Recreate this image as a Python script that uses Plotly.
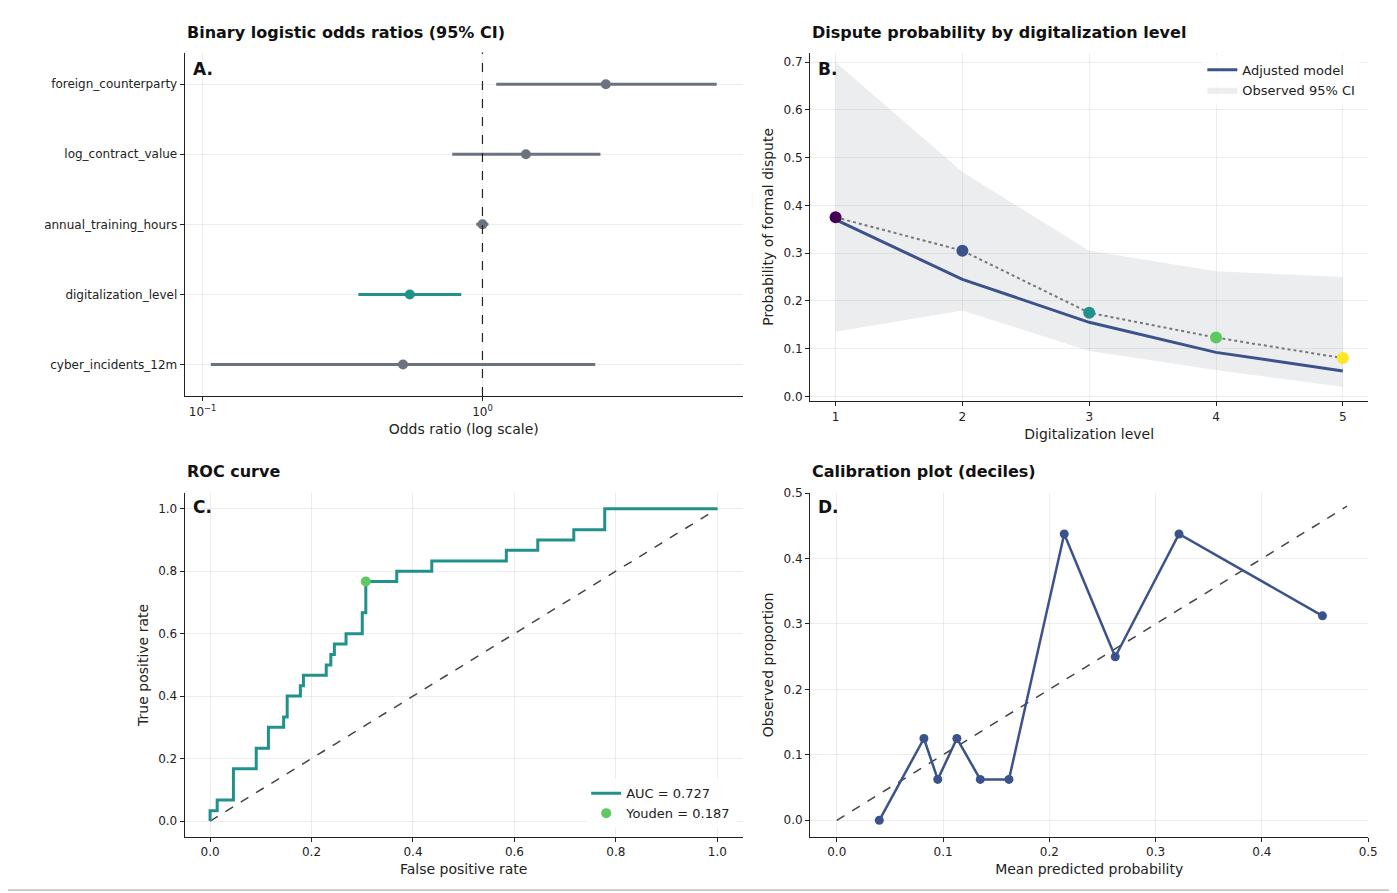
import plotly.graph_objects as go
import numpy as np

# Panel A
predictors = ["foreign_counterparty", "log_contract_value", "annual_training_hours", "digitalization_level", "cyber_incidents_12m"]
odds = [2.76, 1.43, 1.0, 0.55, 0.52]
ci_lo = [1.12, 0.78, 0.95, 0.36, 0.107]
ci_hi = [6.87, 2.64, 1.05, 0.84, 2.53]
sig = [False, False, False, True, False]

# Panel B
levels = [1, 2, 3, 4, 5]
adjusted = [0.37, 0.245, 0.155, 0.092, 0.053]
observed = [0.375, 0.305, 0.175, 0.123, 0.08]
obs_lo = [0.135, 0.18, 0.095, 0.055, 0.02]
obs_hi = [0.70, 0.47, 0.305, 0.262, 0.25]
level_colors = ["#440154", "#3b528b", "#21918c", "#5ec962", "#fde725"]

# Panel C
fpr = [0, 0, 0.014, 0.014, 0.046, 0.046, 0.091, 0.091, 0.115, 0.115, 0.145, 0.145, 0.152, 0.152,
       0.178, 0.178, 0.184, 0.184, 0.229, 0.229, 0.238, 0.238, 0.245, 0.245, 0.268, 0.268, 0.30, 0.30,
       0.307, 0.307, 0.368, 0.368, 0.437, 0.437, 0.584, 0.584, 0.646, 0.646, 0.717, 0.717, 0.778, 0.778, 1.0]
tpr = [0, 0.033, 0.033, 0.067, 0.067, 0.167, 0.167, 0.233, 0.233, 0.3, 0.3, 0.333, 0.333, 0.4,
       0.4, 0.433, 0.433, 0.467, 0.467, 0.5, 0.5, 0.533, 0.533, 0.567, 0.567, 0.6, 0.6, 0.667,
       0.667, 0.767, 0.767, 0.8, 0.8, 0.833, 0.833, 0.867, 0.867, 0.9, 0.9, 0.933, 0.933, 1.0, 1.0]
youden_pt = [0.307, 0.767]

# Panel D
mean_pred = [0.04, 0.082, 0.095, 0.113, 0.135, 0.162, 0.214, 0.262, 0.322, 0.457]
obs_prop = [0.0, 0.125, 0.0625, 0.125, 0.0625, 0.0625, 0.4375, 0.25, 0.4375, 0.3125]

GRAY = "#6b7280"; TEAL = "#21918c"; BLUE = "#3b528b"
W, H = 1397, 893
def dx(a, b): return [a / W, b / W]
def dy(top, bot): return [1 - bot / H, 1 - top / H]

fig = go.Figure()
nA = len(predictors)
ypos = list(range(nA))[::-1]
for i in range(nA):
    c = TEAL if sig[i] else GRAY
    fig.add_trace(go.Scatter(x=[ci_lo[i], ci_hi[i]], y=[ypos[i]] * 2, mode="lines",
                             line=dict(color=c, width=3), showlegend=False, xaxis="x", yaxis="y"))
    fig.add_trace(go.Scatter(x=[odds[i]], y=[ypos[i]], mode="markers",
                             marker=dict(color=c, size=10), showlegend=False, xaxis="x", yaxis="y"))

# B
fig.add_trace(go.Scatter(x=levels, y=obs_hi, mode="lines", line=dict(width=0), showlegend=False,
                         hoverinfo="skip", xaxis="x2", yaxis="y2"))
fig.add_trace(go.Scatter(x=levels, y=obs_lo, mode="lines", line=dict(width=0), fill="tonexty",
                         fillcolor="rgba(160,165,175,0.2)", name="Observed 95% CI", legend="legend",
                         legendrank=2, xaxis="x2", yaxis="y2"))
fig.add_trace(go.Scatter(x=levels, y=adjusted, mode="lines", line=dict(color=BLUE, width=3),
                         name="Adjusted model", legend="legend", legendrank=1, xaxis="x2", yaxis="y2"))
fig.add_trace(go.Scatter(x=levels, y=observed, mode="lines+markers", line=dict(color="#777", width=2, dash="dot"),
                         marker=dict(color=level_colors, size=12), showlegend=False, xaxis="x2", yaxis="y2"))

# C
fig.add_trace(go.Scatter(x=[0, 1], y=[0, 1], mode="lines", line=dict(color="#444", width=1.5, dash="dash"),
                         showlegend=False, xaxis="x3", yaxis="y3"))
fig.add_trace(go.Scatter(x=fpr, y=tpr, mode="lines", line=dict(color=TEAL, width=3),
                         name="AUC = 0.727", legend="legend2", xaxis="x3", yaxis="y3"))
fig.add_trace(go.Scatter(x=[youden_pt[0]], y=[youden_pt[1]], mode="markers", marker=dict(color="#5ec962", size=10),
                         name="Youden = 0.187", legend="legend2", xaxis="x3", yaxis="y3"))

# D
fig.add_trace(go.Scatter(x=[0, 0.48], y=[0, 0.48], mode="lines", line=dict(color="#444", width=1.5, dash="dash"),
                         showlegend=False, xaxis="x4", yaxis="y4"))
fig.add_trace(go.Scatter(x=mean_pred, y=obs_prop, mode="lines+markers", line=dict(color=BLUE, width=2.5),
                         marker=dict(color=BLUE, size=9), showlegend=False, xaxis="x4", yaxis="y4"))

ax = dict(showline=True, linecolor="#222", linewidth=1.2, ticks="outside", ticklen=4, tickcolor="#222",
          showgrid=True, gridcolor="rgba(0,0,0,0.07)", zeroline=False, mirror=False,
          tickfont=dict(size=12, color="#222"), title_font=dict(size=14, color="#222"))

fig.update_layout(
    width=W, height=H, margin=dict(l=0, r=0, t=0, b=0), plot_bgcolor="white", paper_bgcolor="white",
    font=dict(family="DejaVu Sans", color="#222"),
    xaxis=dict(**ax, type="log", range=[-1.064, 0.93], domain=dx(178, 740), anchor="y",
               tickvals=[0.1, 1], ticktext=["10<sup>−1</sup>", "10<sup>0</sup>"],
               title=dict(text="Odds ratio (log scale)", standoff=6)),
    yaxis=dict(**ax, range=[-0.45, nA - 0.55], domain=dy(38, 385), anchor="x",
               tickvals=ypos, ticktext=predictors),
    xaxis2=dict(**ax, range=[0.8, 5.2], domain=dx(808, 1370), anchor="y2", tickvals=levels,
                title=dict(text="Digitalization level", standoff=6)),
    yaxis2=dict(**ax, range=[-0.01, 0.72], domain=dy(38, 390), anchor="x2", dtick=0.1, tickformat=".1f",
                title=dict(text="Probability of formal dispute", standoff=6)),
    xaxis3=dict(**ax, range=[-0.05, 1.05], domain=dx(178, 740), anchor="y3", dtick=0.2, tickformat=".1f",
                title=dict(text="False positive rate", standoff=6)),
    yaxis3=dict(**ax, range=[-0.05, 1.05], domain=dy(483, 830), anchor="x3", dtick=0.2, tickformat=".1f",
                title=dict(text="True positive rate", standoff=6)),
    xaxis4=dict(**ax, range=[-0.025, 0.5], domain=dx(808, 1370), anchor="y4", dtick=0.1, tickformat=".1f",
                title=dict(text="Mean predicted probability", standoff=6)),
    yaxis4=dict(**ax, range=[-0.025, 0.5], domain=dy(483, 830), anchor="x4", dtick=0.1, tickformat=".1f",
                title=dict(text="Observed proportion", standoff=6)),
    legend=dict(x=0.975, y=0.955, xanchor="right", yanchor="top", bgcolor="rgba(255,255,255,0.8)",
                font=dict(size=13), traceorder="normal"),
    legend2=dict(x=0.525, y=0.08, xanchor="right", yanchor="bottom", bgcolor="rgba(255,255,255,0.8)",
                 font=dict(size=13)),
)
fig.add_shape(type="line", x0=1, x1=1, y0=0, y1=1, xref="x", yref="y domain",
              line=dict(color="#222", width=1.2, dash="dash"))

titles = [("Binary logistic odds ratios (95% CI)", 178, 18), ("Dispute probability by digitalization level", 808, 18),
          ("ROC curve", 178, 461), ("Calibration plot (deciles)", 808, 461)]
for t, x, y in titles:
    fig.add_annotation(text="<b>%s</b>" % t, x=x / W, y=1 - y / H, xref="paper", yref="paper",
                       xanchor="left", yanchor="middle", showarrow=False, font=dict(size=16, color="#111"))
letters = [("A.", 184, 55), ("B.", 814, 55), ("C.", 184, 497), ("D.", 814, 497)]
for t, x, y in letters:
    fig.add_annotation(text="<b>%s</b>" % t, x=x / W, y=1 - y / H, xref="paper", yref="paper",
                       xanchor="left", yanchor="middle", showarrow=False, font=dict(size=17, color="#111"))
fig.add_shape(type="line", x0=0, x1=1, y0=1 - 884 / H, y1=1 - 884 / H, xref="paper", yref="paper",
              line=dict(color="#999", width=1))
fig.write_html("out.html")
